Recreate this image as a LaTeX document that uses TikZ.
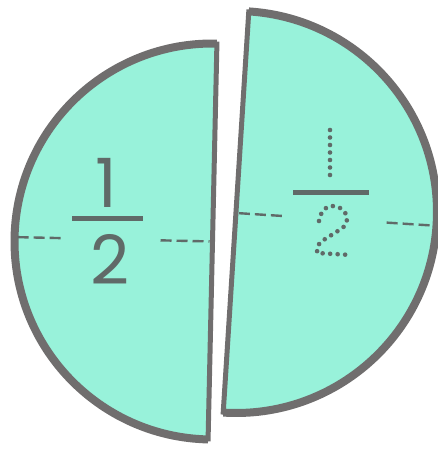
\documentclass[tikz,border=0pt]{standalone}
\usepackage{fontspec}
\setmainfont{Poppins}
\definecolor{mint}{RGB}{152,242,218}
\definecolor{rim}{RGB}{112,110,110}
\definecolor{ink}{RGB}{96,106,104}
\tikzset{
  halffill/.style={fill=mint},
  rimline/.style={draw=rim,line width=8pt,line cap=butt},
  chordline/.style={draw=rim,line width=5pt,line cap=butt},
  midline/.style={draw=ink,line width=2.4pt,dash pattern=on 11pt off 5pt},
  barline/.style={draw=ink,line width=5pt},
  digit/.style={text=ink,inner sep=0pt,font=\fontsize{68}{68}\selectfont},
  dotline/.style={draw=ink,line width=4.6pt,line cap=round,dash pattern=on 0pt off 7.5pt}
}
\begin{document}
\begin{tikzpicture}[x=1pt,y=1pt]
\useasboundingbox (0,0) rectangle (438,451);
% left half
\begin{scope}[shift={(212.5,209.5)},rotate=-1.28]
  \fill[halffill] (0,198) arc[start angle=90,end angle=270,radius=198] -- cycle;
  \draw[rimline] (0,198) arc[start angle=90,end angle=270,radius=198];
  \draw[chordline] (0,200) -- (0,-200);
  \coordinate (l1) at (-195,0); \coordinate (l2) at (-150,0);
  \coordinate (l3) at (-52,0);  \coordinate (l4) at (-3,0);
  \draw[midline] (l1) -- (l2);
  \draw[midline] (l3) -- (l4);
\end{scope}
% right half
\begin{scope}[shift={(236,239)},rotate=-3.65]
  \fill[halffill] (0,201) arc[start angle=90,end angle=-90,radius=201] -- cycle;
  \draw[rimline] (0,201) arc[start angle=90,end angle=-90,radius=201];
  \draw[chordline] (0,203) -- (0,-203);
  \coordinate (r1) at (3,-1); \coordinate (r2) at (47,-1);
  \coordinate (r3) at (151,-1); \coordinate (r4) at (196,-1);
  \draw[midline] (r1) -- (r2);
  \draw[midline] (r3) -- (r4);
\end{scope}
% left fraction
\node[digit] (n1) at (106,268.5) {1};
\node[digit] (d1) at (110,191.5) {2};
\coordinate (b1) at (72,232); \coordinate (b2) at (143,232);
\draw[barline] (b1) -- (b2);
% right fraction (dotted tracing numerals)
\coordinate (b3) at (293,258); \coordinate (b4) at (369,258);
\draw[barline] (b3) -- (b4);
\coordinate (o1) at (330,321); \coordinate (o2) at (330,269);
\draw[dotline] (o1) -- (o2);
\coordinate (t1) at (319,230);
\coordinate (t2) at (332,245);
\coordinate (t3) at (347,232);
\coordinate (t4) at (341,222);
\coordinate (t5) at (322,210);
\coordinate (t6) at (317,198);
\coordinate (t7) at (351,196);
\draw[dotline] (t1) to[out=80,in=180] (t2) to[out=0,in=90] (t3)
  to[out=-90,in=35] (t4) -- (t5) to[out=215,in=90] (t6) -- (t7);
\end{tikzpicture}
\end{document}
